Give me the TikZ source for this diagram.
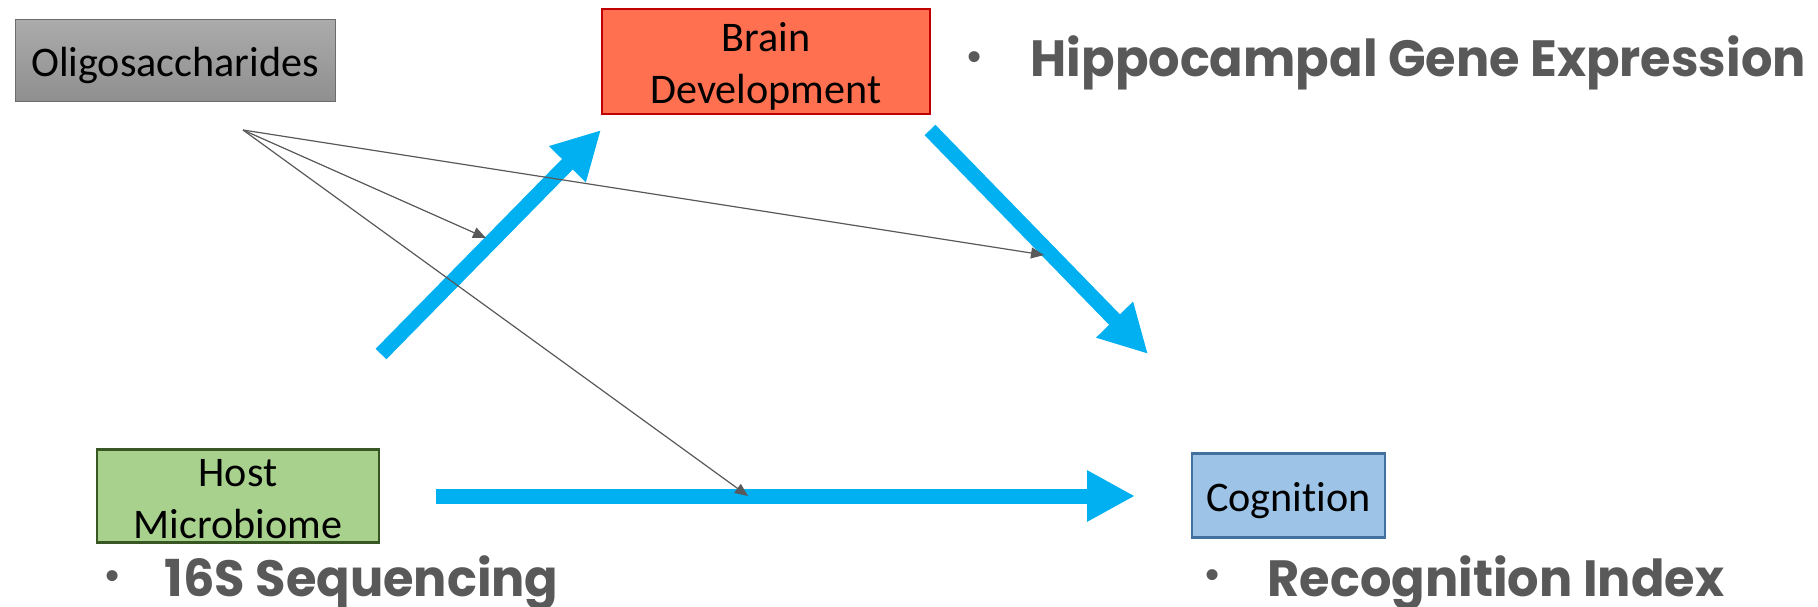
\documentclass[tikz,border=0pt]{standalone}
\usepackage{fontspec}
\setmainfont{Carlito}[Ligatures=CommonOff]
\newfontfamily\itemfont{Poppins}[FakeStretch=0.97]
\newfontfamily\dotfont{Liberation Sans}
\usetikzlibrary{arrows.meta}
\definecolor{arrowblue}{HTML}{00B0F0}
\definecolor{itemgray}{HTML}{595959}
\definecolor{brainred}{HTML}{FF7051}
\definecolor{brainedge}{HTML}{C00000}
\definecolor{hostgreen}{HTML}{A9D18E}
\definecolor{hostedge}{HTML}{385723}
\definecolor{coglblue}{HTML}{9DC3E6}
\definecolor{cogedge}{HTML}{41719C}

\newcommand{\topstrut}[1]{\rule{0pt}{#1}}
\tikzstyle{box} = [draw, line width=0.25mm, inner sep=0pt, align=center, font=\fontsize{12}{14.6}\selectfont, execute at begin node={\rule{0pt}{11pt}}]
\tikzstyle{bigarrow} = [draw=arrowblue, line width=1.5mm, -{Triangle[length=4.8mm,width=4.8mm]}]
\tikzstyle{thinarrow} = [draw=itemgray, line width=0.12mm, -{Triangle[length=1.3mm,width=1.1mm]}]
\tikzstyle{item} = [anchor=base west, inner sep=0pt, text=itemgray, font=\itemfont\bfseries\fontsize{14.5}{17}\selectfont]
\tikzstyle{dot} = [inner sep=0pt, text=itemgray, font=\dotfont\fontsize{11.5}{13}\selectfont]

\begin{document}
\begin{tikzpicture}[x=0.1mm, y=-0.1mm]
\useasboundingbox (0,0) rectangle (1818,606);

\node [box, draw=gray!85!black, line width=0.1mm, top color=black!33, bottom color=black!44, minimum width=32mm, minimum height=8.2mm] (oligo) at (175,61) {Oligosaccharides};
\node [box, draw=brainedge, fill=brainred, minimum width=32.8mm, minimum height=10.5mm] (brain) at (766,61.5) {\topstrut{11pt}Brain\\Development};
\node [box, draw=hostedge, fill=hostgreen, minimum width=28.2mm, minimum height=9.3mm] (host) at (238,496) {\topstrut{9.5pt}Host\\Microbiome};
\node [box, draw=cogedge, fill=coglblue, minimum width=19.3mm, minimum height=8.4mm] (cog) at (1288.5,495.5) {Cognition};

\node [dot] (hipdot) at (975,61) {•};
\node [item] (hip) at (1030,77) {Hippocampal Gene Expression};
\node [dot] (seqdot) at (113,580) {•};
\node [item] (seq) at (164,596) {16S Sequencing};
\node [dot] (recdot) at (1213,579) {•};
\node [item] (rec) at (1267,596) {Recognition Index};

\coordinate (hosttail) at (381,354);
\coordinate (braintip) at (601,130);
\coordinate (braintail) at (930,130);
\coordinate (cogtip) at (1148,354);
\coordinate (htail) at (436,496);
\coordinate (htip) at (1135,496);
\draw [bigarrow] (hosttail) -- (braintip);
\draw [bigarrow] (braintail) -- (cogtip);
\draw [bigarrow] (htail) -- (htip);

\coordinate (fork) at (243,130);
\coordinate (on1) at (486,238);
\coordinate (on2) at (1044,255);
\coordinate (on3) at (748,496);
\draw [thinarrow] (fork) -- (on1);
\draw [thinarrow] (fork) -- (on2);
\draw [thinarrow] (fork) -- (on3);
\end{tikzpicture}
\end{document}
